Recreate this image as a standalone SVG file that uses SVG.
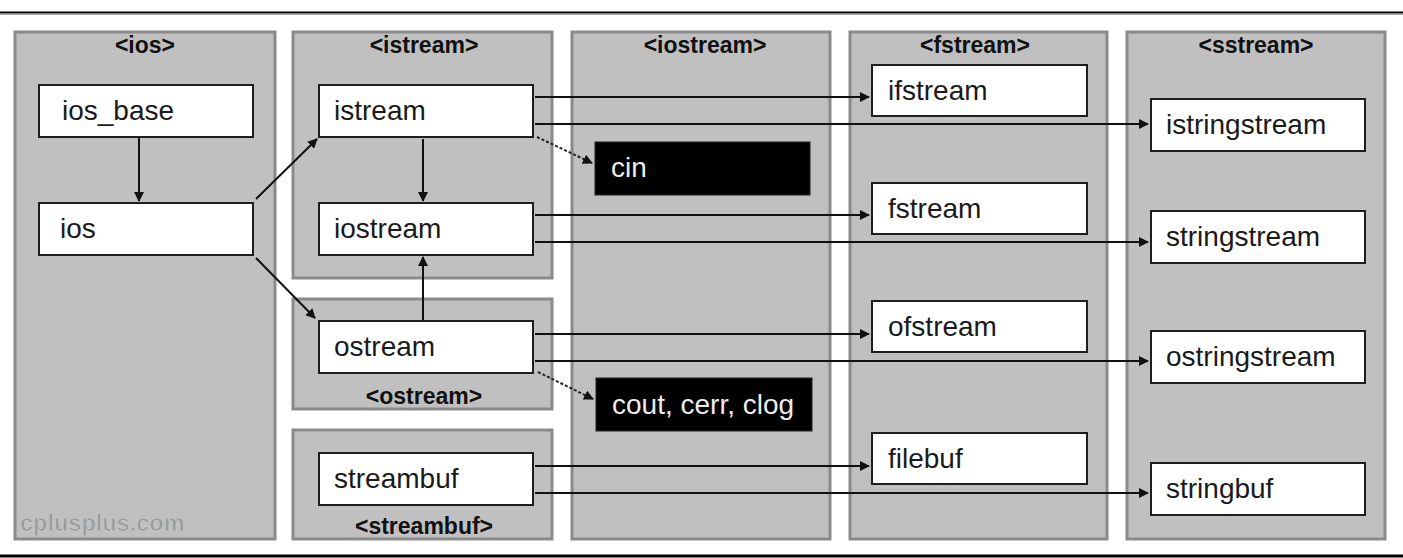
<svg xmlns="http://www.w3.org/2000/svg" width="1403" height="558" viewBox="0 0 1403 558">
<defs>
<style>
.panel{fill:#c0c0c0;stroke:#8a8a8a;stroke-width:3}
.box{fill:#fff;stroke:#1e1e1e;stroke-width:2}
.obj{fill:#000;stroke:#222;stroke-width:1}
.lbl{font-family:"Liberation Sans",Arial,sans-serif;font-size:28px;fill:#1a1a1a}
.olbl{font-family:"Liberation Sans",Arial,sans-serif;font-size:28px;fill:#ececec}
.ttl{font-family:"Liberation Sans",Arial,sans-serif;font-size:23px;font-weight:bold;fill:#111;text-anchor:middle}
.c{fill:none;stroke:#111;stroke-width:2}
.d{fill:none;stroke:#222;stroke-width:2;stroke-dasharray:3 2}
</style>
<marker id="ah" viewBox="0 0 10 10" refX="9" refY="5" markerWidth="10" markerHeight="10" markerUnits="userSpaceOnUse" orient="auto">
<path d="M0,0 L10,5 L0,10 z" fill="#111"/>
</marker>
</defs>
<rect width="1403" height="558" fill="#fff"/>
<line x1="0" y1="12.5" x2="1403" y2="12.5" stroke="#000" stroke-width="2"/>
<line x1="0" y1="14.5" x2="1403" y2="14.5" stroke="#aaa" stroke-width="1"/>
<line x1="0" y1="556" x2="1403" y2="556" stroke="#000" stroke-width="3"/>

<g id="panel-ios">
<rect class="panel" x="15" y="32" width="260" height="507"/>
<text class="ttl" x="145" y="53">&lt;ios&gt;</text>
<text x="20" y="531" font-family="'Liberation Sans',Arial,sans-serif" font-size="23.5" font-weight="bold" fill="#9c9c9c" stroke="#d0d0d0" stroke-width="0.5">cplusplus.com</text>
</g>
<g id="panel-istream">
<rect class="panel" x="293" y="32" width="259" height="246"/>
<text class="ttl" x="424" y="53">&lt;istream&gt;</text>
</g>
<g id="panel-ostream">
<rect class="panel" x="293" y="299" width="259" height="110"/>
<text class="ttl" x="424" y="404">&lt;ostream&gt;</text>
</g>
<g id="panel-streambuf">
<rect class="panel" x="293" y="430" width="259" height="109"/>
<text class="ttl" x="424" y="534">&lt;streambuf&gt;</text>
</g>
<g id="panel-iostream">
<rect class="panel" x="572" y="32" width="258" height="507"/>
<text class="ttl" x="705" y="53">&lt;iostream&gt;</text>
</g>
<g id="panel-fstream">
<rect class="panel" x="850" y="32" width="257" height="507"/>
<text class="ttl" x="975" y="53">&lt;fstream&gt;</text>
</g>
<g id="panel-sstream">
<rect class="panel" x="1127" y="32" width="258" height="507"/>
<text class="ttl" x="1256" y="53">&lt;sstream&gt;</text>
</g>

<g id="ios_base"><rect class="box" x="39" y="85" width="214" height="52"/><text class="lbl" x="62" y="120">ios_base</text></g>
<g id="ios"><rect class="box" x="39" y="203" width="214" height="52"/><text class="lbl" x="60" y="238">ios</text></g>
<g id="istream"><rect class="box" x="319" y="85" width="214" height="52"/><text class="lbl" x="334" y="120">istream</text></g>
<g id="iostream"><rect class="box" x="319" y="203" width="214" height="52"/><text class="lbl" x="334" y="238">iostream</text></g>
<g id="ostream"><rect class="box" x="319" y="321" width="214" height="52"/><text class="lbl" x="334" y="356">ostream</text></g>
<g id="streambuf"><rect class="box" x="319" y="453" width="214" height="52"/><text class="lbl" x="334" y="488">streambuf</text></g>
<g id="cin"><rect class="obj" x="595" y="142" width="215" height="53"/><text class="olbl" x="611" y="177">cin</text></g>
<g id="cout"><rect class="obj" x="596" y="378" width="216" height="53"/><text class="olbl" x="612" y="414">cout, cerr, clog</text></g>
<g id="ifstream"><rect class="box" x="872" y="65" width="215" height="51"/><text class="lbl" x="888" y="100">ifstream</text></g>
<g id="fstream"><rect class="box" x="872" y="183" width="215" height="51"/><text class="lbl" x="888" y="218">fstream</text></g>
<g id="ofstream"><rect class="box" x="872" y="301" width="215" height="51"/><text class="lbl" x="888" y="336">ofstream</text></g>
<g id="filebuf"><rect class="box" x="872" y="433" width="215" height="51"/><text class="lbl" x="888" y="468">filebuf</text></g>
<g id="istringstream"><rect class="box" x="1151" y="99" width="214" height="52"/><text class="lbl" x="1166" y="134">istringstream</text></g>
<g id="stringstream"><rect class="box" x="1151" y="211" width="214" height="52"/><text class="lbl" x="1166" y="246">stringstream</text></g>
<g id="ostringstream"><rect class="box" x="1151" y="331" width="214" height="52"/><text class="lbl" x="1166" y="366">ostringstream</text></g>
<g id="stringbuf"><rect class="box" x="1151" y="463" width="214" height="52"/><text class="lbl" x="1166" y="498">stringbuf</text></g>

<g id="connectors">
<line class="c" x1="139" y1="138" x2="139" y2="201" marker-end="url(#ah)"/>
<line class="c" x1="256" y1="199" x2="317" y2="139" marker-end="url(#ah)"/>
<line class="c" x1="256" y1="258" x2="315" y2="318" marker-end="url(#ah)"/>
<line class="c" x1="423" y1="139" x2="423" y2="201" marker-end="url(#ah)"/>
<line class="c" x1="423" y1="320" x2="423" y2="257" marker-end="url(#ah)"/>
<line class="c" x1="535" y1="97" x2="869" y2="97" marker-end="url(#ah)"/>
<line class="c" x1="535" y1="124" x2="1148" y2="124" marker-end="url(#ah)"/>
<line class="d" x1="537" y1="137" x2="592" y2="163" marker-end="url(#ah)"/>
<line class="c" x1="535" y1="215" x2="869" y2="215" marker-end="url(#ah)"/>
<line class="c" x1="535" y1="242" x2="1148" y2="242" marker-end="url(#ah)"/>
<line class="c" x1="535" y1="334" x2="869" y2="334" marker-end="url(#ah)"/>
<line class="c" x1="535" y1="361" x2="1148" y2="361" marker-end="url(#ah)"/>
<line class="d" x1="538" y1="372" x2="593" y2="399" marker-end="url(#ah)"/>
<line class="c" x1="535" y1="466" x2="869" y2="466" marker-end="url(#ah)"/>
<line class="c" x1="535" y1="493" x2="1148" y2="493" marker-end="url(#ah)"/>
</g>
</svg>
